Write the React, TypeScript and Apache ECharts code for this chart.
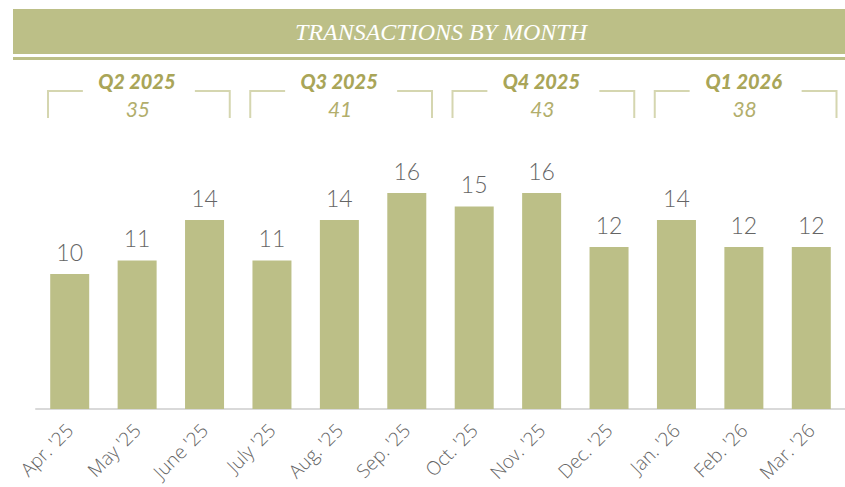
import React, { useEffect, useRef } from "react";
import * as echarts from "echarts";

const months = ["Apr. '25", "May '25", "June '25", "July '25", "Aug. '25", "Sep. '25", "Oct. '25", "Nov. '25", "Dec. '25", "Jan. '26", "Feb. '26", "Mar. '26"];
const values = [10, 11, 14, 11, 14, 16, 15, 16, 12, 14, 12, 12];
const quarterNames = ["Q2 2025", "Q3 2025", "Q4 2025", "Q1 2026"];
const quarterTotals = [35, 41, 43, 38];
const quarterStart = [0, 3, 6, 9];
const quarterEnd = [2, 5, 8, 11];
const titleText = "TRANSACTIONS BY MONTH";

const OLIVE = "#BCBF87";
const BRACKET = "#D5D6B0";
const QTITLE = "#A9A558";
const QNUM = "#B2AE6C";
const GRAY = "#656565";

export default function App() {
  const ref = useRef<HTMLDivElement>(null);
  useEffect(() => {
    if (!ref.current) return;
    const chart = echarts.init(ref.current, null, { renderer: "svg" });
    const bracketData = quarterNames.map((q, i) => [quarterStart[i], quarterEnd[i], quarterTotals[i], q]);
    chart.setOption({
      animation: false,
      graphic: [
        { type: "rect", shape: { x: 13, y: 9, width: 832, height: 45 }, style: { fill: OLIVE }, silent: true },
        { type: "rect", shape: { x: 13, y: 57, width: 832, height: 3 }, style: { fill: OLIVE }, silent: true },
        {
          type: "text",
          x: 441,
          y: 32,
          style: {
            text: titleText,
            fill: "#ffffff",
            font: "italic 24px 'Liberation Serif'",
            textAlign: "center",
            textVerticalAlign: "middle",
          },
          silent: true,
        },
      ],
      grid: { left: 36, right: 0, top: 139, bottom: 78, containLabel: false },
      xAxis: {
        type: "category",
        data: months,
        axisLine: { show: true, lineStyle: { color: "#d9d9d9", width: 2 } },
        axisTick: { show: false },
        axisLabel: {
          rotate: 45,
          interval: 0,
          margin: 18,
          color: GRAY,
          fontFamily: "Open Sans",
          fontWeight: 300,
          fontSize: 19,
        },
      },
      yAxis: {
        type: "value",
        min: 0,
        max: 20,
        show: false,
        splitLine: { show: false },
      },
      series: [
        {
          type: "bar",
          data: values,
          barWidth: 39,
          itemStyle: { color: OLIVE },
          label: {
            show: true,
            position: "top",
            distance: 11,
            color: GRAY,
            fontFamily: "Lato",
            fontWeight: 300,
            fontSize: 23,
          },
          z: 3,
        },
        {
          type: "custom",
          data: bracketData,
          encode: { x: [0, 1] },
          silent: true,
          clip: false,
          renderItem: (params: any, api: any) => {
            const s = api.coord([api.value(0), 0]);
            const e = api.coord([api.value(1), 0]);
            const bw = api.size([1, 0])[0];
            const left = s[0] - bw / 2 + 12;
            const right = e[0] + bw / 2 - 8.5;
            const cx = (left + right) / 2;
            const top = 91;
            const bottom = 118;
            const gap = 56;
            const idx = params.dataIndex;
            return {
              type: "group",
              children: [
                {
                  type: "polyline",
                  shape: { points: [[left, bottom], [left, top], [cx - gap, top]] },
                  style: { stroke: BRACKET, lineWidth: 2, fill: "none" },
                },
                {
                  type: "polyline",
                  shape: { points: [[cx + gap, top], [right, top], [right, bottom]] },
                  style: { stroke: BRACKET, lineWidth: 2, fill: "none" },
                },
                {
                  type: "text",
                  x: cx - 2,
                  y: 81,
                  style: {
                    text: quarterNames[idx],
                    fill: QTITLE,
                    font: "italic 900 20px Lato",
                    textAlign: "center",
                    textVerticalAlign: "middle",
                  },
                },
                {
                  type: "text",
                  x: cx - 1,
                  y: 108,
                  style: {
                    text: String(quarterTotals[idx]),
                    fill: QNUM,
                    font: "italic 400 21px Lato",
                    textAlign: "center",
                    textVerticalAlign: "middle",
                  },
                },
              ],
            };
          },
          z: 5,
        },
      ],
    });
    return () => chart.dispose();
  }, []);
  return (
    <div
      ref={ref}
      style={{ position: "fixed", left: 0, top: 0, width: 845, height: 487, background: "#ffffff" }}
    />
  );
}
